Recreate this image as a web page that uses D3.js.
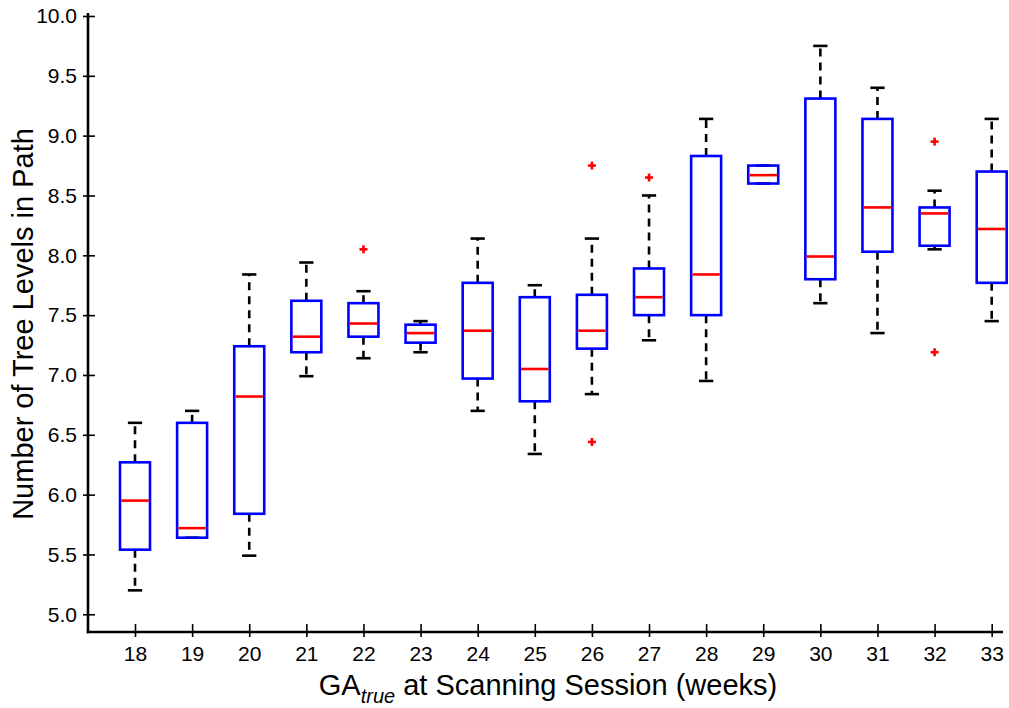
<!DOCTYPE html>
<html>
<head>
<meta charset="utf-8">
<script src="https://cdn.jsdelivr.net/npm/d3@7"></script>
<style>
  html, body { margin: 0; padding: 0; background: #fff; }
  svg { display: block; font-family: "Liberation Sans", Arial, Helvetica, sans-serif; }
</style>
</head>
<body>
<svg id="chart" width="1009" height="708"></svg>
<script>
// Gestational age at scanning (weeks) and box-plot statistics per week
const weeks      = [18, 19, 20, 21, 22, 23, 24, 25, 26, 27, 28, 29, 30, 31, 32, 33];
const whiskerLow = [5.20, 5.64, 5.49, 6.99, 7.14, 7.19, 6.70, 6.34, 6.84, 7.29, 6.95, 8.60, 7.60, 7.35, 8.05, 7.45];
const q1         = [5.54, 5.64, 5.84, 7.19, 7.32, 7.27, 6.97, 6.78, 7.22, 7.50, 7.50, 8.60, 7.80, 8.03, 8.08, 7.77];
const medians    = [5.95, 5.72, 6.82, 7.32, 7.43, 7.35, 7.37, 7.05, 7.37, 7.65, 7.84, 8.67, 7.99, 8.40, 8.35, 8.22];
const q3         = [6.27, 6.60, 7.24, 7.62, 7.60, 7.42, 7.77, 7.65, 7.67, 7.89, 8.83, 8.75, 9.31, 9.14, 8.40, 8.70];
const whiskerHigh= [6.60, 6.70, 7.84, 7.94, 7.70, 7.45, 8.14, 7.75, 8.14, 8.50, 9.14, 8.75, 9.75, 9.40, 8.54, 9.14];
const outlierWeeks  = [22, 26, 26, 27, 32, 32];
const outlierValues = [8.05, 8.75, 6.44, 8.65, 8.95, 7.19];
const yTicks = [5.0, 5.5, 6.0, 6.5, 7.0, 7.5, 8.0, 8.5, 9.0, 9.5, 10.0];

const svg = d3.select("#chart");

const x = d3.scaleLinear().domain([17.177, 33.198]).range([88, 1003]);
const y = d3.scaleLinear().domain([4.852, 10.025]).range([632, 13]);

const step = x(19) - x(18);
const boxW = step * 0.525;
const capW = step * 0.25;

const boxes = weeks.map((w, i) => ({
  w, lo: whiskerLow[i], q1: q1[i], med: medians[i], q3: q3[i], hi: whiskerHigh[i]
}));

const g = svg.append("g");

// whiskers (dashed) and caps
const wk = g.append("g").attr("stroke", "#000").attr("stroke-width", 2.6).attr("fill", "none");
boxes.forEach(d => {
  if (d.hi > d.q3) {
    wk.append("line").attr("x1", x(d.w)).attr("x2", x(d.w))
      .attr("y1", y(d.q3)).attr("y2", y(d.hi)).attr("stroke-dasharray", "8,6");
  }
  if (d.lo < d.q1) {
    wk.append("line").attr("x1", x(d.w)).attr("x2", x(d.w))
      .attr("y1", y(d.q1)).attr("y2", y(d.lo)).attr("stroke-dasharray", "8,6");
  }
  wk.append("line").attr("x1", x(d.w) - capW / 2).attr("x2", x(d.w) + capW / 2)
    .attr("y1", y(d.hi)).attr("y2", y(d.hi));
  wk.append("line").attr("x1", x(d.w) - capW / 2).attr("x2", x(d.w) + capW / 2)
    .attr("y1", y(d.lo)).attr("y2", y(d.lo));
});

// boxes
g.append("g").selectAll("rect").data(boxes).join("rect")
  .attr("x", d => x(d.w) - boxW / 2)
  .attr("width", boxW)
  .attr("y", d => y(d.q3))
  .attr("height", d => y(d.q1) - y(d.q3))
  .attr("fill", "none")
  .attr("stroke", "#0000ff")
  .attr("stroke-width", 2.6);

// medians
g.append("g").selectAll("line").data(boxes).join("line")
  .attr("x1", d => x(d.w) - boxW / 2 + 1.3)
  .attr("x2", d => x(d.w) + boxW / 2 - 1.3)
  .attr("y1", d => y(d.med))
  .attr("y2", d => y(d.med))
  .attr("stroke", "#ff0000")
  .attr("stroke-width", 2.6);

// outliers as red plus signs
const outG = g.append("g").attr("stroke", "#ff0000").attr("stroke-width", 2.6);
outlierWeeks.forEach((w, i) => {
  const cx = x(w), cy = y(outlierValues[i]), r = 4;
  outG.append("line").attr("x1", cx - r).attr("x2", cx + r).attr("y1", cy).attr("y2", cy);
  outG.append("line").attr("x1", cx).attr("x2", cx).attr("y1", cy - r).attr("y2", cy + r);
});

// axes
const yAxis = svg.append("g").attr("transform", "translate(88,0)")
  .call(d3.axisLeft(y).tickValues(yTicks).tickFormat(d3.format(".1f")).tickSize(0).tickPadding(11));
yAxis.select(".domain").remove();
yAxis.selectAll(".tick line").attr("x1", -5).attr("x2", 7).attr("stroke", "#000").attr("stroke-width", 1.6);
yAxis.selectAll(".tick text").attr("font-size", 21).attr("fill", "#000")
  .attr("font-family", "Liberation Sans, Arial, sans-serif");

const xAxis = svg.append("g").attr("transform", "translate(0,632)")
  .call(d3.axisBottom(x).tickValues(weeks).tickFormat(d3.format("d")).tickSize(0).tickPadding(14));
xAxis.select(".domain").remove();
xAxis.selectAll(".tick line").attr("y1", -8).attr("y2", 5).attr("stroke", "#000").attr("stroke-width", 1.6);
xAxis.selectAll(".tick text").attr("font-size", 21).attr("fill", "#000")
  .attr("font-family", "Liberation Sans, Arial, sans-serif");

svg.append("line").attr("x1", 88).attr("x2", 88).attr("y1", y.range()[1]).attr("y2", 633.2)
  .attr("stroke", "#000").attr("stroke-width", 2.6);
svg.append("line").attr("x1", 86.7).attr("x2", 1003).attr("y1", 632).attr("y2", 632)
  .attr("stroke", "#000").attr("stroke-width", 2.6);

// axis titles
svg.append("text")
  .attr("transform", "translate(33,324) rotate(-90)")
  .attr("text-anchor", "middle")
  .attr("font-size", 29)
  .attr("fill", "#000")
  .text("Number of Tree Levels in Path");

const xt = svg.append("text")
  .attr("x", 548).attr("y", 695)
  .attr("text-anchor", "middle")
  .attr("font-size", 29)
  .attr("fill", "#000");
xt.append("tspan").text("GA");
xt.append("tspan").attr("font-size", 20).attr("font-style", "italic").attr("dy", 8).text("true");
xt.append("tspan").attr("dy", -8).text(" at Scanning Session (weeks)");
</script>
</body>
</html>
